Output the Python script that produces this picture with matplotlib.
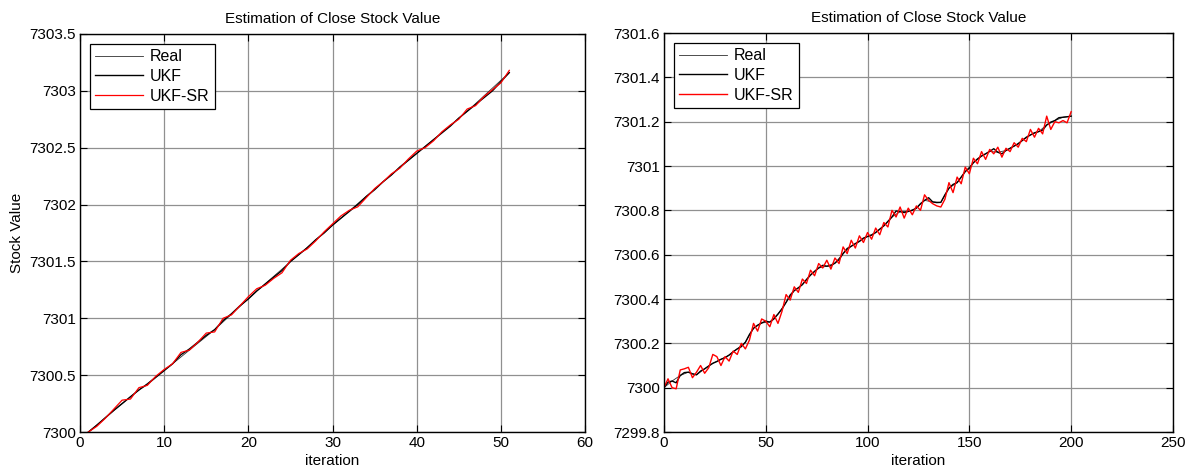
import matplotlib.pyplot as plt
from matplotlib.transforms import Bbox

# ---- left panel data (x = 1..51)
left_iter = list(range(1, 52))
left_real_iter = [1, 6, 11, 16, 21, 26, 31, 36, 41, 46, 51]
left_real = [7300.000, 7300.310, 7300.600, 7300.900, 7301.240, 7301.560,
             7301.880, 7302.200, 7302.510, 7302.820, 7303.160]
left_ukf = [7300.000, 7300.060, 7300.125, 7300.190, 7300.250, 7300.310, 7300.370,
            7300.420, 7300.480, 7300.540, 7300.600, 7300.680, 7300.730, 7300.790,
            7300.850, 7300.900, 7300.980, 7301.040, 7301.110, 7301.170, 7301.240,
            7301.300, 7301.360, 7301.420, 7301.500, 7301.560, 7301.620, 7301.690,
            7301.750, 7301.820, 7301.880, 7301.940, 7302.000, 7302.070, 7302.130,
            7302.200, 7302.260, 7302.330, 7302.390, 7302.450, 7302.510, 7302.570,
            7302.630, 7302.690, 7302.760, 7302.820, 7302.880, 7302.940, 7303.000,
            7303.080, 7303.160]
left_ukfsr = [7300.000, 7300.050, 7300.120, 7300.200, 7300.280, 7300.290, 7300.390,
              7300.410, 7300.490, 7300.550, 7300.600, 7300.700, 7300.720, 7300.790,
              7300.870, 7300.880, 7301.000, 7301.030, 7301.110, 7301.190, 7301.260,
              7301.290, 7301.350, 7301.400, 7301.510, 7301.570, 7301.610, 7301.680,
              7301.760, 7301.830, 7301.900, 7301.950, 7301.980, 7302.060, 7302.140,
              7302.200, 7302.270, 7302.320, 7302.400, 7302.470, 7302.500, 7302.560,
              7302.640, 7302.700, 7302.750, 7302.840, 7302.870, 7302.950, 7303.010,
              7303.070, 7303.180]

# ---- right panel data (x = 0..200 step 2, real step 4)
right_iter = list(range(0, 201, 2))
right_real_iter = list(range(0, 201, 4))
right_real = [7300.000, 7300.030, 7300.055, 7300.070, 7300.058, 7300.085, 7300.110,
              7300.128, 7300.147, 7300.175, 7300.205, 7300.268, 7300.292, 7300.296,
              7300.332, 7300.385, 7300.438, 7300.465, 7300.508, 7300.540, 7300.548,
              7300.562, 7300.605, 7300.638, 7300.660, 7300.682, 7300.700, 7300.730,
              7300.770, 7300.794, 7300.795, 7300.810, 7300.845, 7300.838, 7300.836,
              7300.900, 7300.925, 7300.975, 7301.015, 7301.045, 7301.066, 7301.062,
              7301.070, 7301.090, 7301.115, 7301.140, 7301.155, 7301.185, 7301.205,
              7301.220, 7301.225]
right_ukf = [7300.000, 7300.025, 7300.030, 7300.022, 7300.055, 7300.068, 7300.070,
             7300.062, 7300.058, 7300.075, 7300.085, 7300.098, 7300.110, 7300.118,
             7300.128, 7300.135, 7300.147, 7300.162, 7300.175, 7300.185, 7300.205,
             7300.240, 7300.268, 7300.282, 7300.292, 7300.300, 7300.296, 7300.310,
             7300.332, 7300.355, 7300.385, 7300.418, 7300.438, 7300.450, 7300.465,
             7300.488, 7300.508, 7300.525, 7300.540, 7300.552, 7300.548, 7300.550,
             7300.562, 7300.578, 7300.605, 7300.628, 7300.638, 7300.650, 7300.660,
             7300.675, 7300.682, 7300.688, 7300.700, 7300.715, 7300.730, 7300.750,
             7300.770, 7300.797, 7300.794, 7300.790, 7300.795, 7300.800, 7300.810,
             7300.830, 7300.845, 7300.857, 7300.838, 7300.835, 7300.836, 7300.870,
             7300.900, 7300.917, 7300.925, 7300.950, 7300.975, 7300.990, 7301.015,
             7301.032, 7301.045, 7301.055, 7301.066, 7301.078, 7301.062, 7301.055,
             7301.070, 7301.080, 7301.090, 7301.100, 7301.115, 7301.130, 7301.140,
             7301.150, 7301.155, 7301.162, 7301.185, 7301.198, 7301.205, 7301.218,
             7301.220, 7301.222, 7301.225]
right_ukfsr = [7300.000, 7300.040, 7300.000, 7299.995, 7300.080, 7300.085, 7300.092,
               7300.045, 7300.070, 7300.100, 7300.065, 7300.090, 7300.150, 7300.140,
               7300.100, 7300.140, 7300.120, 7300.165, 7300.150, 7300.200, 7300.175,
               7300.215, 7300.290, 7300.255, 7300.310, 7300.300, 7300.275, 7300.330,
               7300.290, 7300.345, 7300.420, 7300.395, 7300.455, 7300.430, 7300.490,
               7300.470, 7300.530, 7300.505, 7300.560, 7300.540, 7300.575, 7300.535,
               7300.585, 7300.560, 7300.635, 7300.605, 7300.665, 7300.630, 7300.685,
               7300.655, 7300.700, 7300.670, 7300.720, 7300.690, 7300.745, 7300.725,
               7300.800, 7300.770, 7300.815, 7300.765, 7300.810, 7300.780, 7300.820,
               7300.800, 7300.870, 7300.845, 7300.830, 7300.820, 7300.815, 7300.850,
               7300.925, 7300.880, 7300.950, 7300.920, 7300.995, 7300.965, 7301.035,
               7301.010, 7301.065, 7301.030, 7301.075, 7301.055, 7301.085, 7301.040,
               7301.080, 7301.065, 7301.105, 7301.085, 7301.125, 7301.110, 7301.165,
               7301.130, 7301.170, 7301.145, 7301.225, 7301.165, 7301.200, 7301.195,
               7301.205, 7301.195, 7301.245]

title_text = "Estimation of Close Stock Value"
legend_labels = ["Real", "UKF", "UKF-SR"]

plt.rcParams['font.family'] = ['Liberation Sans', 'DejaVu Sans']
plt.rcParams['font.size'] = 10.5

fig = plt.figure(figsize=(11.92, 4.75), dpi=100)
ax1 = fig.add_axes([0.0671, 0.0905, 0.4237, 0.838])
ax2 = fig.add_axes([0.557, 0.0905, 0.427, 0.8400])


def style_axes(ax, xlim, ylim, yticks, ylabfmt):
    ax.set_xlim(*xlim)
    ax.set_ylim(*ylim)
    ax.set_yticks(yticks)
    ax.set_yticklabels([ylabfmt(v) for v in yticks])
    ax.grid(True, color='#909090', linewidth=0.9)
    ax.set_axisbelow(True)
    ax.tick_params(direction='in', top=True, right=True, length=5, width=0.8,
                   labelsize=11, colors='black', pad=3)
    for sp in ax.spines.values():
        sp.set_linewidth(1.0)
        sp.set_color('black')
    ax.set_title(title_text, fontsize=11, pad=8)
    ax.set_xlabel("iteration", fontsize=11, labelpad=3)


def fmt(v):
    s = "%.1f" % v
    return s[:-2] if s.endswith(".0") else s


# left panel
ax1.plot(left_real_iter, left_real, color='#303030', lw=0.6, label=legend_labels[0])
ax1.plot(left_iter, left_ukf, color='black', lw=1.0, label=legend_labels[1])
ax1.plot(left_iter, left_ukfsr, color='red', lw=0.9, label=legend_labels[2])
style_axes(ax1, (0, 60), (7300, 7303.5),
           [7300, 7300.5, 7301, 7301.5, 7302, 7302.5, 7303, 7303.5], fmt)
ax1.set_xticks(range(0, 61, 10))
ax1.set_ylabel("Stock Value", fontsize=11, labelpad=4)

# right panel
ax2.plot(right_real_iter, right_real, color='#303030', lw=0.6, label=legend_labels[0])
ax2.plot(right_iter, right_ukf, color='black', lw=1.0, label=legend_labels[1])
ax2.plot(right_iter, right_ukfsr, color='red', lw=1.0, label=legend_labels[2])
style_axes(ax2, (0, 250), (7299.8, 7301.6),
           [7299.8, 7300, 7300.2, 7300.4, 7300.6, 7300.8, 7301, 7301.2, 7301.4, 7301.6], fmt)
ax2.set_xticks(range(0, 251, 50))

# partly hidden y label of the right panel (only slivers show)
ylab = fig.text(596 / 1192, 0.52, "Stock Value", rotation=90, ha='center',
                va='center', fontsize=11)
ylab.set_clip_box(Bbox([[598.5, 0], [601.5, 475]]))
ylab.set_clip_on(True)

for ax in (ax1, ax2):
    leg = ax.legend(loc='upper left', fancybox=False, edgecolor='black',
                    framealpha=1, fontsize=11.5, handlelength=3.0,
                    borderaxespad=0.6, labelspacing=0.3, handletextpad=0.4,
                    borderpad=0.35)
    leg.get_frame().set_linewidth(0.9)

fig.savefig("out.png", dpi=100)
